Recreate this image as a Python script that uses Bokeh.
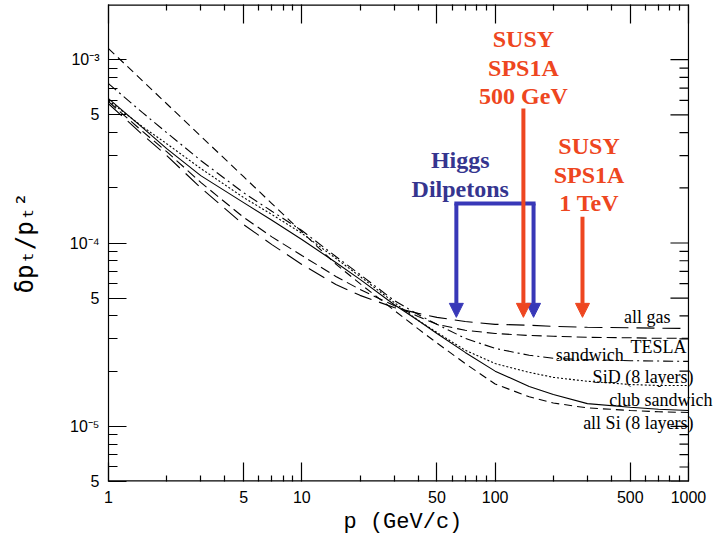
import math
from bokeh.plotting import figure
from bokeh.models import Range1d, FixedTicker, LogAxis, Label, Arrow, NormalHead, Title
from bokeh.embed import file_html
from bokeh.resources import INLINE

# ---------------- data ----------------
p_vals = [1, 1.5, 2, 3, 5, 7, 10, 15, 20, 30, 40, 50, 70, 100, 150, 200, 300, 500, 700, 1000]

all_gas = [5.75e-4, 3.9e-4, 3.0e-4, 2.0e-4, 1.26e-4, 9.8e-5, 7.64e-5, 5.94e-5, 5.18e-5, 4.45e-5,
           4.13e-5, 3.93e-5, 3.73e-5, 3.6e-5, 3.56e-5, 3.51e-5, 3.47e-5, 3.45e-5, 3.43e-5, 3.42e-5]
tesla = [5.9e-4, 4.06e-4, 3.15e-4, 2.14e-4, 1.38e-4, 1.08e-4, 8.55e-5, 6.57e-5, 5.58e-5, 4.56e-5,
         3.97e-5, 3.6e-5, 3.34e-5, 3.21e-5, 3.13e-5, 3.1e-5, 3.06e-5, 3.04e-5, 3.02e-5, 3.02e-5]
sandwich = [7.4e-4, 5.14e-4, 4.0e-4, 2.82e-4, 1.88e-4, 1.49e-4, 1.17e-4, 8.44e-5, 6.73e-5, 4.86e-5,
            4.07e-5, 3.6e-5, 3.02e-5, 2.66e-5, 2.44e-5, 2.35e-5, 2.31e-5, 2.28e-5, 2.27e-5, 2.26e-5]
sid = [5.98e-4, 4.31e-4, 3.48e-4, 2.55e-4, 1.77e-4, 1.43e-4, 1.13e-4, 8.24e-5, 6.57e-5, 4.74e-5,
       3.78e-5, 3.25e-5, 2.6e-5, 2.2e-5, 1.97e-5, 1.85e-5, 1.76e-5, 1.69e-5, 1.67e-5, 1.67e-5]
club_sandwich = [6.13e-4, 4.26e-4, 3.27e-4, 2.33e-4, 1.66e-4, 1.33e-4, 1.045e-4, 7.83e-5, 6.33e-5, 4.62e-5,
                 3.78e-5, 3.21e-5, 2.53e-5, 2.0e-5, 1.65e-5, 1.49e-5, 1.33e-5, 1.27e-5, 1.24e-5, 1.22e-5]
all_si = [1.15e-3, 7.67e-4, 5.75e-4, 3.83e-4, 2.30e-4, 1.64e-4, 1.15e-4, 7.67e-5, 6.0e-5, 4.3e-5,
          3.4e-5, 2.85e-5, 2.2e-5, 1.7e-5, 1.45e-5, 1.34e-5, 1.26e-5, 1.22e-5, 1.2e-5, 1.19e-5]

curve_names = ["all gas", "TESLA", "sandwich", "SiD (8 layers)", "club sandwich", "all Si (8 layers)"]
curve_label_x = [808, 977, 462, 1063, 1333, 1063]
curve_label_y = [3.93e-5, 2.70e-5, 2.44e-5, 1.85e-5, 1.39e-5, 1.04e-5]

x_major = [1, 5, 10, 50, 100, 500, 1000]
x_major_labels = ["1", "5", "10", "50", "100", "500", "1000"]
x_minor = [2, 3, 4, 6, 7, 8, 9, 20, 30, 40, 60, 70, 80, 90, 200, 300, 400, 600, 700, 800, 900]
y_major = [5e-6, 1e-5, 5e-5, 1e-4, 5e-4, 1e-3]
y_major_labels = ["5", "10\u207b\u2075", "5", "10\u207b\u2074", "5", "10\u207b\u00b3"]
y_minor = [6e-6, 7e-6, 8e-6, 9e-6, 2e-5, 3e-5, 4e-5, 6e-5, 7e-5, 8e-5, 9e-5,
           2e-4, 3e-4, 4e-4, 6e-4, 7e-4, 8e-4, 9e-4]

x_title = "p (GeV/c)"
y_title = "\u03b4p\u209c/p\u209c\u00b2"

# annotations (data coordinates)
susy500_lines = ["SUSY", "SPS1A", "500 GeV"]
susy500_x = 140
susy500_y = [1.30e-3, 9.04e-4, 6.37e-4]
susy1tev_lines = ["SUSY", "SPS1A", "1 TeV"]
susy1tev_x = 306
susy1tev_y = [3.40e-4, 2.36e-4, 1.66e-4]
higgs_lines = ["Higgs", "Dilpetons"]
higgs_x = 66
higgs_y = [2.82e-4, 1.98e-4]

red_arrow_x = [140, 283]
red_arrow_top = [5.41e-4, 1.39e-4]
blue_arrow_x = [63, 158]
blue_bracket_top = 1.64e-4
arrow_tip_y = 3.93e-5

# plot box (axis limits); the frame is widened to the right so labels can overhang
X_LO, X_HI = 1, 1000
Y_LO, Y_HI = 5e-6, 2e-3
X_FRAME_END = 1430

RED = "#EE4620"
BLUE = "#3838B8"
BLUE_TEXT = "#35358F"

# ---------------- figure ----------------
p = figure(width=720, height=540, x_axis_type="log", y_axis_type="log",
           x_range=Range1d(X_LO, X_FRAME_END), y_range=Range1d(Y_LO, Y_HI),
           output_backend="svg", toolbar_location=None,
           min_border_left=108, min_border_right=2, min_border_top=4, min_border_bottom=59)
p.xgrid.visible = False
p.ygrid.visible = False
p.outline_line_color = None
p.background_fill_color = "white"
p.border_fill_color = "white"

xa = p.xaxis[0]
xa.ticker = FixedTicker(ticks=x_major, minor_ticks=x_minor)
xa.major_label_overrides = {t: l for t, l in zip(x_major, x_major_labels)}
xa.axis_line_color = None
xa.major_tick_in = 19
xa.major_tick_out = 0
xa.minor_tick_in = 6
xa.minor_tick_out = 0
xa.major_label_standoff = 9
xa.major_label_text_font = "Liberation Sans"
xa.major_label_text_font_size = "16px"
xa.major_label_text_color = "black"

# x-axis title, centred on the 1..1000 box (not on the widened frame)
p.add_layout(Title(text=x_title, align="left", offset=235, standoff=5,
                   text_font="Liberation Mono", text_font_style="normal",
                   text_font_size="22px", text_color="black"), "below")

ya = p.yaxis[0]
ya.ticker = FixedTicker(ticks=y_major, minor_ticks=y_minor)
ya.major_label_overrides = {t: l for t, l in zip(y_major, y_major_labels)}
ya.major_tick_in = 18
ya.major_tick_out = 0
ya.minor_tick_in = 9
ya.minor_tick_out = 0
ya.major_label_standoff = 9
ya.major_label_text_font = "Liberation Sans"
ya.major_label_text_font_size = "16px"
ya.major_label_text_color = "black"
ya.axis_label = y_title
ya.axis_label_text_font = "DejaVu Sans Mono"
ya.axis_label_text_font_style = "normal"
ya.axis_label_text_font_size = "24px"
ya.axis_label_text_color = "black"
ya.axis_label_standoff = 28

for ax in (xa, ya):
    ax.axis_line_width = 1.2
    ax.major_tick_line_width = 1.2
    ax.minor_tick_line_width = 1.2
    ax.major_tick_line_color = "black"
    ax.minor_tick_line_color = "black"
ya.axis_line_color = "black"

top = LogAxis(ticker=FixedTicker(ticks=x_major, minor_ticks=x_minor),
              major_label_overrides={t: "" for t in x_major},
              major_label_text_font_size="0px", major_label_standoff=0,
              axis_line_color=None,
              major_tick_in=19, major_tick_out=0, minor_tick_in=6, minor_tick_out=0,
              major_tick_line_width=1.2, minor_tick_line_width=1.2,
              major_tick_line_color="black", minor_tick_line_color="black")
p.add_layout(top, "above")

# box edges (bottom, top, right) of the 1..1000 plot box
p.segment(x0=[X_LO, X_LO], y0=[Y_LO, Y_HI], x1=[X_HI, X_HI], y1=[Y_LO, Y_HI],
          line_color="black", line_width=2.4)
p.segment(x0=[X_HI], y0=[Y_LO], x1=[X_HI], y1=[Y_HI], line_color="black", line_width=1.2)
p.ray(x=[X_HI] * len(y_major), y=y_major, length=18, length_units="screen", angle=math.pi,
      line_color="black", line_width=1.2)
p.ray(x=[X_HI] * len(y_minor), y=y_minor, length=9, length_units="screen", angle=math.pi,
      line_color="black", line_width=1.2)

# ---------------- curves ----------------
series = [all_gas, tesla, sandwich, sid, club_sandwich, all_si]
dashes = ["18 8", "10 5", "10 4 2 4", "2 2", "solid", "8 5"]
for ys, dash in zip(series, dashes):
    p.line(p_vals, ys, line_color="black", line_width=1.1, line_dash=dash)

for name, lx, ly in zip(curve_names, curve_label_x, curve_label_y):
    p.add_layout(Label(x=lx, y=ly, text=name, text_align="right", text_baseline="middle",
                       text_font="Liberation Serif", text_font_size="18px", text_color="black"))

# ---------------- arrows ----------------
p.line([blue_arrow_x[0], blue_arrow_x[1]], [blue_bracket_top, blue_bracket_top],
       line_color=BLUE, line_width=4, line_cap="square")
for bx in blue_arrow_x:
    p.add_layout(Arrow(end=NormalHead(size=14, fill_color=BLUE, line_color=BLUE, line_width=1),
                       x_start=bx, y_start=blue_bracket_top, x_end=bx, y_end=arrow_tip_y,
                       line_color=BLUE, line_width=4))
for rx, rt in zip(red_arrow_x, red_arrow_top):
    p.add_layout(Arrow(end=NormalHead(size=14, fill_color=RED, line_color=RED, line_width=1),
                       x_start=rx, y_start=rt, x_end=rx, y_end=arrow_tip_y,
                       line_color=RED, line_width=4))

for lines, lx, lys, col in [(susy500_lines, susy500_x, susy500_y, RED),
                            (susy1tev_lines, susy1tev_x, susy1tev_y, RED),
                            (higgs_lines, higgs_x, higgs_y, BLUE_TEXT)]:
    for t, ly in zip(lines, lys):
        p.add_layout(Label(x=lx, y=ly, text=t, text_align="center", text_baseline="middle",
                           text_font="Liberation Serif", text_font_style="bold",
                           text_font_size="24px", text_color=col))

open("out.html", "w").write(file_html(p, INLINE))
